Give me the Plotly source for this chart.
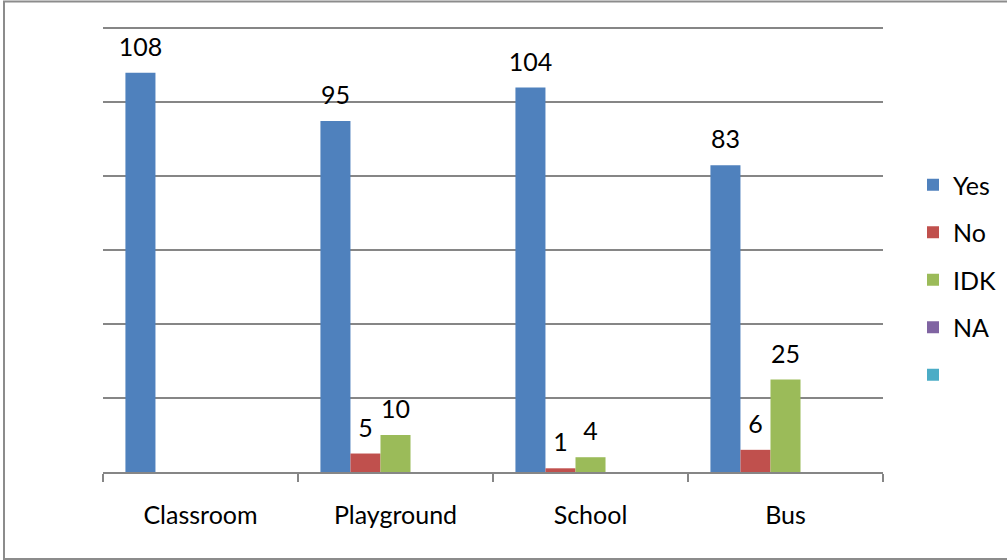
import plotly.graph_objects as go

categories = ["Classroom", "Playground", "School", "Bus"]
series_names = ["Yes", "No", "IDK", "NA", " "]
yes_vals = [108, 95, 104, 83]
no_vals = [None, 5, 1, 6]
idk_vals = [None, 10, 4, 25]
na_vals = [None, None, None, None]
blank_vals = [None, None, None, None]
colors = ["#4F81BD", "#C0504D", "#9BBB59", "#8064A2", "#4BACC6"]

all_vals = [yes_vals, no_vals, idk_vals, na_vals, blank_vals]
FONT = "Lato"
FS = 25

fig = go.Figure()
for i, (name, vals, col) in enumerate(zip(series_names, all_vals, colors)):
    fig.add_trace(go.Bar(
        x=categories, y=vals, name=name, legendgroup=f"g{i}",
        marker=dict(color=col, line=dict(width=0)),
        texttemplate=f"<span style='font-size:{FS}px'>%{{y}}</span><br><span style='font-size:6px'>&nbsp;</span>",
        textposition="outside", cliponaxis=False, constraintext="none",
        textfont=dict(family=FONT, size=10, color="#000000"),
        hoverinfo="skip",
    ))

W, H = 1007, 560
ml, mr, mt, mb = 103, 124, 27, 88
pw, ph = W - ml - mr, H - mt - mb

fig.update_layout(
    width=W, height=H,
    margin=dict(l=ml, r=mr, t=mt, b=mb, pad=0, autoexpand=False),
    barmode="group", bargap=0.23, bargroupgap=0,
    plot_bgcolor="white", paper_bgcolor="white",
    font=dict(family=FONT, size=FS, color="#000000"),
    showlegend=True,
    legend=dict(x=(913 - ml) / pw, y=(H - mb - 162) / ph, xanchor="left", yanchor="top",
                font=dict(family=FONT, size=FS), tracegroupgap=12,
                bgcolor="rgba(0,0,0,0)", itemwidth=30),
    xaxis=dict(showline=True, linecolor="#868686", linewidth=1.5,
               ticks="outside", tickson="boundaries", ticklen=8, tickcolor="#868686", tickwidth=1.5,
               tickfont=dict(family=FONT, size=FS), showgrid=False, ticklabelstandoff=20),
    yaxis=dict(range=[0, 120.4], tick0=0, dtick=20, showticklabels=False, showgrid=True,
               gridcolor="#868686", gridwidth=1.5, zeroline=False, showline=False, ticks=""),
    shapes=[dict(type="rect", xref="paper", yref="paper",
                 x0=(4 - ml) / pw, x1=(W + 10 - ml) / pw,
                 y0=-(mb - 1) / ph, y1=(H - mb - 1.5) / ph,
                 line=dict(color="#8c8c8c", width=2), layer="below")],
)

fig.write_html("out.html", config={"displayModeBar": False},
               post_script="document.body.style.margin='0';")
